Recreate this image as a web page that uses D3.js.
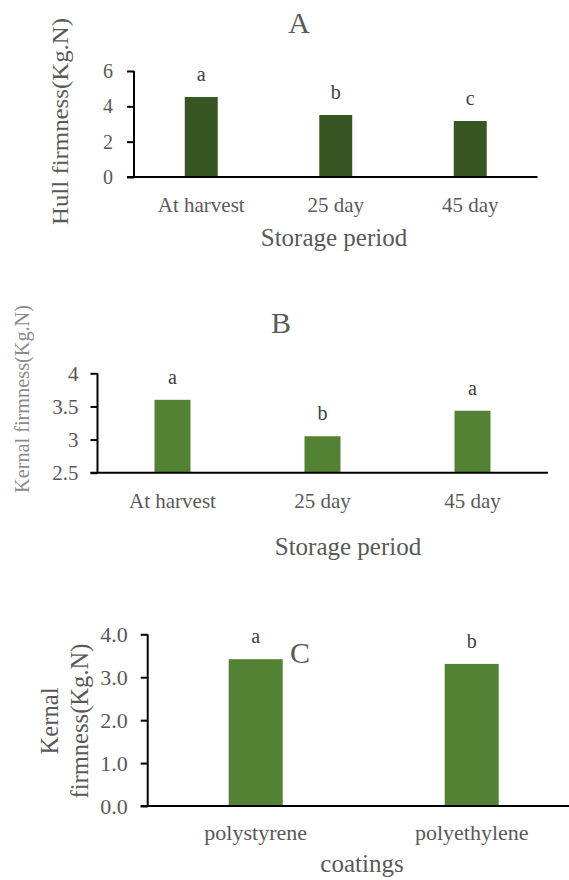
<!DOCTYPE html>
<html>
<head>
<meta charset="utf-8">
<script src="https://cdn.jsdelivr.net/npm/d3@7"></script>
<style>
  html, body { margin: 0; padding: 0; background: #fff; }
  svg { display: block; font-family: "Liberation Serif", "Times New Roman", serif; }
</style>
</head>
<body>
<svg id="chart" width="569" height="880"></svg>
<script>
// ---- Data ----
const categoriesA = ["At harvest", "25 day", "45 day"];
const valuesA = [4.53, 3.51, 3.17];
const lettersA = ["a", "b", "c"];
const ticksA = [0, 2, 4, 6];

const categoriesB = ["At harvest", "25 day", "45 day"];
const valuesB = [3.60, 3.05, 3.435];
const lettersB = ["a", "b", "a"];
const ticksB = [2.5, 3, 3.5, 4];

const categoriesC = ["polystyrene", "polyethylene"];
const valuesC = [3.42, 3.31];
const lettersC = ["a", "b"];
const ticksC = [0, 1, 2, 3, 4];

const svg = d3.select("#chart");

function panel(o) {
  const g = svg.append("g");
  const x = d3.scaleBand().domain(o.cats).range([o.x0, o.x1])
    .paddingInner(o.pad).paddingOuter(o.pad / 2);
  const y = d3.scaleLinear().domain(o.domain).range([o.y0, o.y1]);

  // bars
  g.selectAll("rect.bar").data(o.vals).join("rect")
    .attr("class", "bar")
    .attr("x", (d, i) => x(o.cats[i]))
    .attr("width", x.bandwidth())
    .attr("y", d => y(d))
    .attr("height", d => y(o.domain[0]) - y(d))
    .attr("fill", o.color);

  // significance letters
  g.selectAll("text.let").data(o.vals).join("text")
    .attr("class", "let")
    .attr("x", (d, i) => x(o.cats[i]) + x.bandwidth() / 2)
    .attr("y", d => y(d) - 16)
    .attr("text-anchor", "middle")
    .attr("font-size", 20)
    .attr("fill", "#404040")
    .text((d, i) => o.letters[i]);

  // y axis
  const ya = g.append("g").attr("transform", `translate(${o.x0},0)`)
    .call(d3.axisLeft(y).tickValues(o.ticks).tickFormat(o.fmt).tickSize(7).tickPadding(o.tp));
  ya.attr("font-family", null);
  ya.select(".domain").attr("stroke", "#000").attr("stroke-width", 2)
    .attr("d", `M0,${o.y0}V${o.y1}`);
  ya.selectAll(".tick line").attr("stroke", "#000").attr("stroke-width", 2);
  ya.selectAll(".tick text").attr("font-size", o.tickFs).attr("fill", "#595959");

  // x axis
  const xa = g.append("g").attr("transform", `translate(0,${o.y0})`)
    .call(d3.axisBottom(x).tickSize(0).tickPadding(o.xtp));
  xa.attr("font-family", null);
  xa.select(".domain").attr("stroke", "#000").attr("stroke-width", 2)
    .attr("d", `M${o.x0 - 7},0H${o.xEnd}`);
  xa.selectAll(".tick text").attr("font-size", o.catFs).attr("fill", "#595959");

  // x title
  g.append("text").attr("x", o.xtX).attr("y", o.xtY).attr("text-anchor", "middle")
    .attr("font-size", 25).attr("fill", "#595959").text(o.xTitle);

  // panel title
  g.append("text").attr("x", o.tX).attr("y", o.tY).attr("text-anchor", "middle")
    .attr("font-size", 30).attr("fill", "#595959").text(o.title);

  // y title (possibly multi-line)
  o.yTitle.forEach((t, i) => {
    g.append("text")
      .attr("transform", `translate(${o.ytX[i]},${o.ytY}) rotate(-90)`)
      .attr("text-anchor", "middle")
      .attr("textLength", o.ytLen[i])
      .attr("lengthAdjust", "spacingAndGlyphs")
      .attr("font-size", o.ytFs).attr("fill", o.ytColor).text(t);
  });
}

panel({
  cats: categoriesA, vals: valuesA, letters: lettersA, ticks: ticksA,
  fmt: d3.format("d"), domain: [0, 6],
  x0: 134, x1: 537.5, xEnd: 537.5, y0: 177, y1: 71, pad: 0.755,
  color: "#375623", tickFs: 20, tp: 14, catFs: 21, xtp: 20,
  xTitle: "Storage period", xtX: 334, xtY: 246,
  title: "A", tX: 299, tY: 33,
  yTitle: ["Hull firmness(Kg.N)"], ytX: [68], ytY: 121.5, ytLen: [207], ytFs: 24, ytColor: "#595959"
});

panel({
  cats: categoriesB, vals: valuesB, letters: lettersB, ticks: ticksB,
  fmt: d => String(d), domain: [2.5, 4],
  x0: 97.5, x1: 547.5, xEnd: 548, y0: 472.7, y1: 373.3, pad: 0.76,
  color: "#548235", tickFs: 21, tp: 12, catFs: 21, xtp: 20,
  xTitle: "Storage period", xtX: 348, xtY: 555,
  title: "B", tX: 281, tY: 333,
  yTitle: ["Kernal firmness(Kg.N)"], ytX: [29], ytY: 399, ytLen: [188], ytFs: 20, ytColor: "#8c8c8c"
});

panel({
  cats: categoriesC, vals: valuesC, letters: lettersC, ticks: ticksC,
  fmt: d3.format(".1f"), domain: [0, 4],
  x0: 147.7, x1: 579.7, xEnd: 569, y0: 806, y1: 634.3, pad: 0.75,
  color: "#548235", tickFs: 22, tp: 13, catFs: 22, xtp: 18,
  xTitle: "coatings", xtX: 362, xtY: 872,
  title: "C", tX: 300, tY: 663,
  yTitle: ["Kernal", "firmness(Kg.N)"], ytX: [58, 88], ytY: 721, ytLen: [67, 155], ytFs: 25, ytColor: "#595959"
});
</script>
</body>
</html>
